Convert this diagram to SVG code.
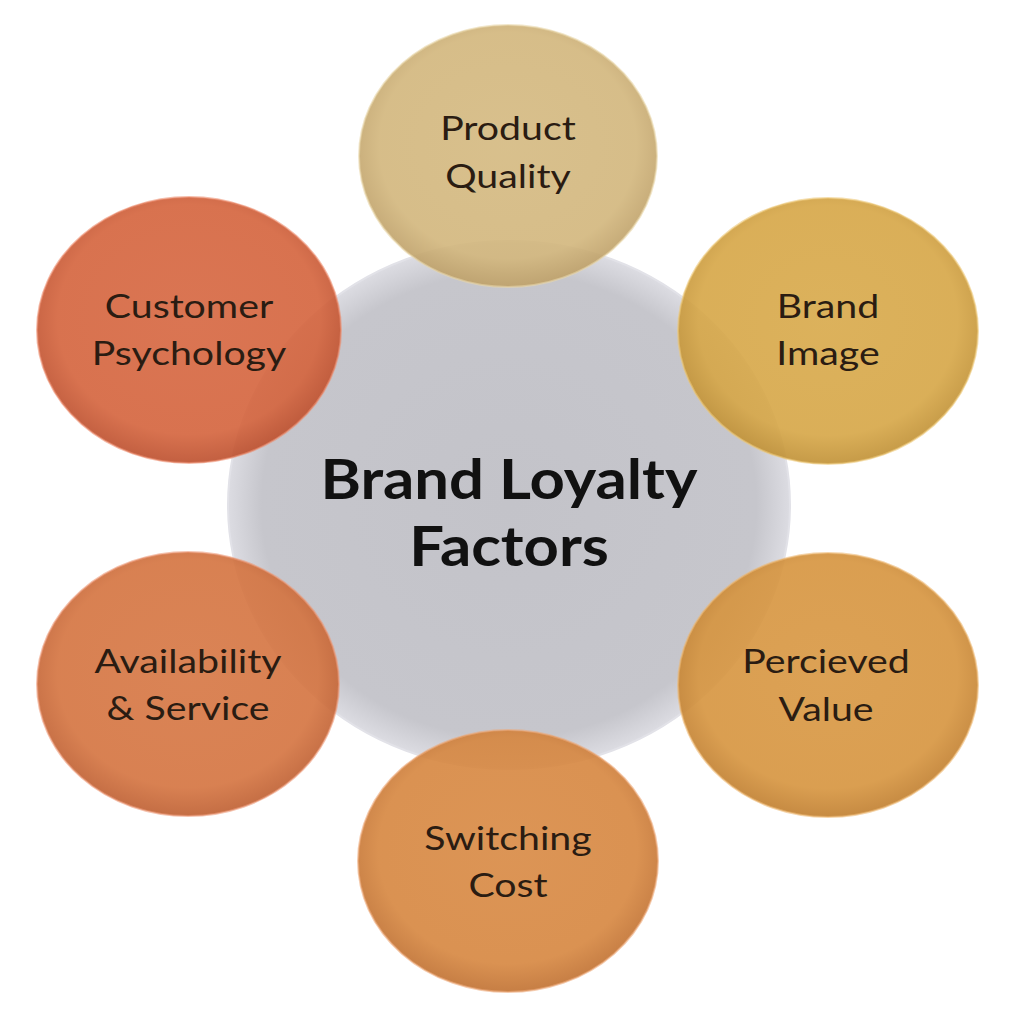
<svg xmlns="http://www.w3.org/2000/svg" width="1024" height="1026" viewBox="0 0 1024 1026">
<style>
  .sat { fill-opacity: 0.9; stroke-width: 2; stroke-opacity: 0.6; }
  .lbl { font-family: Lato, "Open Sans", "Liberation Sans", sans-serif; font-size: 33px; fill: #2a1c12; text-anchor: middle; }
  .ctr { font-family: Lato, "Open Sans", "Liberation Sans", sans-serif; font-size: 56px; font-weight: bold; fill: #111111; text-anchor: middle; }
</style>
<defs>
  <radialGradient id="gC" cx="50%" cy="50%" r="50%">
    <stop offset="0" stop-color="#c3c3c9"/>
    <stop offset="0.88" stop-color="#c6c6cc"/>
    <stop offset="1" stop-color="#dcdce2"/>
  </radialGradient>
  <radialGradient id="gPQ" cx="50%" cy="46%" r="54%">
    <stop offset="0" stop-color="#d4b980"/><stop offset="0.8" stop-color="#d2b67c"/><stop offset="1" stop-color="#bea068"/>
  </radialGradient>
  <radialGradient id="gBI" cx="50%" cy="46%" r="54%">
    <stop offset="0" stop-color="#d8a94a"/><stop offset="0.8" stop-color="#d6a646"/><stop offset="1" stop-color="#c09034"/>
  </radialGradient>
  <radialGradient id="gPV" cx="50%" cy="46%" r="54%">
    <stop offset="0" stop-color="#d89742"/><stop offset="0.8" stop-color="#d6943e"/><stop offset="1" stop-color="#c07e2e"/>
  </radialGradient>
  <radialGradient id="gSC" cx="50%" cy="46%" r="54%">
    <stop offset="0" stop-color="#d88943"/><stop offset="0.8" stop-color="#d6863f"/><stop offset="1" stop-color="#c07030"/>
  </radialGradient>
  <radialGradient id="gAS" cx="50%" cy="46%" r="54%">
    <stop offset="0" stop-color="#d67643"/><stop offset="0.8" stop-color="#d4733f"/><stop offset="1" stop-color="#be5e30"/>
  </radialGradient>
  <radialGradient id="gCP" cx="50%" cy="46%" r="54%">
    <stop offset="0" stop-color="#d66640"/><stop offset="0.8" stop-color="#d4633c"/><stop offset="1" stop-color="#bc4e2c"/>
  </radialGradient>
</defs>
<rect width="1024" height="1026" fill="#ffffff"/>
<g id="center">
  <ellipse cx="509" cy="505" rx="281" ry="264" fill="url(#gC)" stroke="#e2e2e8" stroke-width="2"/>
  <text class="ctr" transform="translate(509,499) scale(1.1,1)">Brand Loyalty</text>
  <text class="ctr" transform="translate(509,566) scale(1.1,1)">Factors</text>
</g>
<g id="connectors"></g>
<g id="product-quality">
  <ellipse class="sat" cx="508" cy="156" rx="149" ry="131" fill="url(#gPQ)" stroke="#e8d6a8"/>
  <text class="lbl" transform="translate(508,140) scale(1.19,1)">Product</text>
  <text class="lbl" transform="translate(508,188) scale(1.19,1)">Quality</text>
</g>
<g id="brand-image">
  <ellipse class="sat" cx="828" cy="331" rx="150" ry="133" fill="url(#gBI)" stroke="#ecc878"/>
  <text class="lbl" transform="translate(828,318) scale(1.19,1)">Brand</text>
  <text class="lbl" transform="translate(828,365) scale(1.19,1)">Image</text>
</g>
<g id="percieved-value">
  <ellipse class="sat" cx="828" cy="685" rx="150" ry="132" fill="url(#gPV)" stroke="#ecb872"/>
  <text class="lbl" transform="translate(826,673) scale(1.19,1)">Percieved</text>
  <text class="lbl" transform="translate(826,721) scale(1.19,1)">Value</text>
</g>
<g id="switching-cost">
  <ellipse class="sat" cx="508" cy="861" rx="150" ry="131" fill="url(#gSC)" stroke="#eca878"/>
  <text class="lbl" transform="translate(508,850) scale(1.19,1)">Switching</text>
  <text class="lbl" transform="translate(508,897) scale(1.19,1)">Cost</text>
</g>
<g id="availability-service">
  <ellipse class="sat" cx="188" cy="684" rx="151" ry="132" fill="url(#gAS)" stroke="#ec9a78"/>
  <text class="lbl" transform="translate(188,673) scale(1.19,1)">Availability</text>
  <text class="lbl" transform="translate(188,720) scale(1.19,1)">&amp; Service</text>
</g>
<g id="customer-psychology">
  <ellipse class="sat" cx="189" cy="330" rx="152" ry="133" fill="url(#gCP)" stroke="#ec8e70"/>
  <text class="lbl" transform="translate(189,318) scale(1.19,1)">Customer</text>
  <text class="lbl" transform="translate(189,365) scale(1.19,1)">Psychology</text>
</g>
</svg>
